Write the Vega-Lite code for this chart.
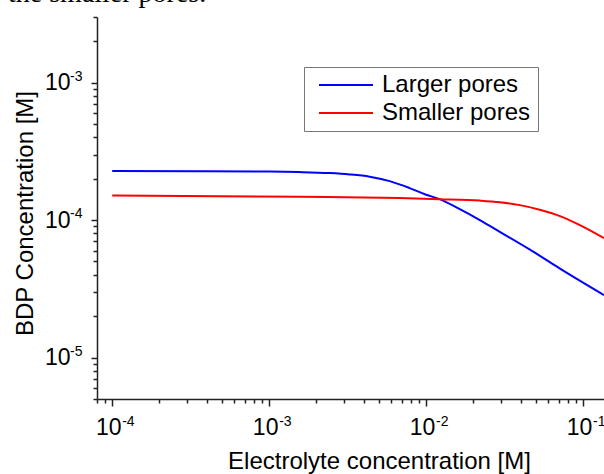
{
  "$schema": "https://vega.github.io/schema/vega-lite/v6.json",
  "autosize": {"type": "none"},
  "width": 507,
  "height": 382,
  "padding": {"left": 97, "top": 17, "right": 0, "bottom": 75},
  "background": "white",
  "config": {
    "view": {"stroke": null},
    "font": "Liberation Sans",
    "axis": {"grid": false, "domainColor": "#222", "domainWidth": 1.5, "tickColor": "#222", "tickWidth": 1.5, "labelFont": "Liberation Sans", "labelFontSize": 23, "labelColor": "#000", "titleFont": "Liberation Sans", "titleFontSize": 24, "titleFontWeight": "normal", "titleColor": "#000", "labelOverlap": false, "labelFlush": false}
  },
  "datasets": {
    "curves": [
      {"x": 0.0001, "y": 0.0002272, "s": "Larger pores"},
      {"x": 0.000359, "y": 0.0002264, "s": "Larger pores"},
      {"x": 0.001, "y": 0.0002253, "s": "Larger pores"},
      {"x": 0.00156, "y": 0.0002234, "s": "Larger pores"},
      {"x": 0.00243, "y": 0.0002197, "s": "Larger pores"},
      {"x": 0.00325, "y": 0.000215, "s": "Larger pores"},
      {"x": 0.00437, "y": 0.000207, "s": "Larger pores"},
      {"x": 0.00586, "y": 0.000192, "s": "Larger pores"},
      {"x": 0.00785, "y": 0.000171, "s": "Larger pores"},
      {"x": 0.01, "y": 0.000153, "s": "Larger pores"},
      {"x": 0.0122, "y": 0.000142, "s": "Larger pores"},
      {"x": 0.0164, "y": 0.00012, "s": "Larger pores"},
      {"x": 0.022, "y": 0.0001, "s": "Larger pores"},
      {"x": 0.0295, "y": 0.0000822, "s": "Larger pores"},
      {"x": 0.0459, "y": 0.000061, "s": "Larger pores"},
      {"x": 0.0713, "y": 0.0000444, "s": "Larger pores"},
      {"x": 0.136, "y": 0.0000285, "s": "Larger pores"},
      {"x": 0.0001, "y": 0.0001507, "s": "Smaller pores"},
      {"x": 0.00156, "y": 0.000148, "s": "Smaller pores"},
      {"x": 0.0068, "y": 0.0001445, "s": "Smaller pores"},
      {"x": 0.0122, "y": 0.000142, "s": "Smaller pores"},
      {"x": 0.022, "y": 0.0001387, "s": "Smaller pores"},
      {"x": 0.0295, "y": 0.000135, "s": "Smaller pores"},
      {"x": 0.0396, "y": 0.0001285, "s": "Smaller pores"},
      {"x": 0.053, "y": 0.000119, "s": "Smaller pores"},
      {"x": 0.0713, "y": 0.000107, "s": "Smaller pores"},
      {"x": 0.0955, "y": 0.000092, "s": "Smaller pores"},
      {"x": 0.136, "y": 0.000074, "s": "Smaller pores"}
    ],
    "xexp": [
      {"v": 0.0001, "e": "-4"},
      {"v": 0.001, "e": "-3"},
      {"v": 0.01, "e": "-2"},
      {"v": 0.1, "e": "-1"}
    ],
    "yexp": [
      {"v": 0.00001, "e": "-5"},
      {"v": 0.0001, "e": "-4"},
      {"v": 0.001, "e": "-3"}
    ],
    "caption": [
      {"t": "the smaller pores."}
    ]
  },
  "layer": [
    {
      "data": {"name": "curves"},
      "mark": {"type": "line", "strokeWidth": 2, "interpolate": "monotone", "clip": true},
      "encoding": {
        "x": {"field": "x", "type": "quantitative",
          "scale": {"type": "log", "domain": [0.00008, 0.136], "nice": false},
          "axis": {"title": "Electrolyte concentration [M]", "titleX": 282, "titleY": 69, "titleBaseline": "alphabetic", "titleAnchor": "middle",
            "values": [0.00008, 0.00009, 0.0001, 0.0002, 0.0003, 0.0004, 0.0005, 0.0006, 0.0007, 0.0008, 0.0009, 0.001, 0.002, 0.003, 0.004, 0.005, 0.006, 0.007, 0.008, 0.009, 0.01, 0.02, 0.03, 0.04, 0.05, 0.06, 0.07, 0.08, 0.09, 0.1],
            "labelExpr": "abs(log(datum.value)/LN10 - round(log(datum.value)/LN10)) < 1e-6 ? '10' : ''",
            "tickSize": {"condition": {"test": "abs(log(datum.value)/LN10 - round(log(datum.value)/LN10)) < 1e-6", "value": 7}, "value": 4},
            "labelOffset": -4,
            "labelPadding": 10}},
        "y": {"field": "y", "type": "quantitative",
          "scale": {"type": "log", "domain": [0.000005, 0.003], "nice": false},
          "axis": {"title": "BDP Concentration [M]", "titleX": -72, "titleY": 196, "titleBaseline": "middle", "titleAnchor": "middle",
            "values": [0.000005, 0.000006, 0.000007, 0.000008, 0.000009, 0.00001, 0.00002, 0.00003, 0.00004, 0.00005, 0.00006, 0.00007, 0.00008, 0.00009, 0.0001, 0.0002, 0.0003, 0.0004, 0.0005, 0.0006, 0.0007, 0.0008, 0.0009, 0.001, 0.002, 0.003],
            "labelExpr": "abs(log(datum.value)/LN10 - round(log(datum.value)/LN10)) < 1e-6 ? '10' : ''",
            "tickSize": {"condition": {"test": "abs(log(datum.value)/LN10 - round(log(datum.value)/LN10)) < 1e-6", "value": 6}, "value": 4},
            "labelPadding": 21}},
        "color": {"field": "s", "type": "nominal",
          "scale": {"domain": ["Larger pores", "Smaller pores"], "range": ["#0000FF", "#FF0000"]},
          "legend": {"title": "\u00a0", "titleOrient": "right", "titlePadding": 4, "titleFontSize": 10, "orient": "none", "legendX": 207, "legendY": 50, "strokeColor": "#777", "padding": 4, "symbolType": "stroke", "symbolSize": 2916, "symbolStrokeWidth": 2, "symbolOffset": 10, "clipHeight": 28, "rowPadding": 0, "labelFontSize": 24, "labelFont": "Liberation Sans", "labelColor": "#000", "labelOffset": 8, "fillColor": "white"}}
      }
    },
    {
      "data": {"name": "xexp"},
      "mark": {"type": "text", "fontSize": 14, "font": "Liberation Sans", "align": "left", "baseline": "top", "dx": 10, "dy": 16, "color": "#000"},
      "encoding": {
        "x": {"field": "v", "type": "quantitative"},
        "y": {"datum": 0.000005, "type": "quantitative"},
        "text": {"field": "e"}
      }
    },
    {
      "data": {"name": "yexp"},
      "mark": {"type": "text", "fontSize": 14, "font": "Liberation Sans", "align": "left", "baseline": "middle", "dx": -27, "dy": -6, "color": "#000"},
      "encoding": {
        "y": {"field": "v", "type": "quantitative"},
        "x": {"datum": 0.00008, "type": "quantitative"},
        "text": {"field": "e"}
      }
    },
    {
      "data": {"name": "caption"},
      "mark": {"type": "text", "fontSize": 28, "font": "Liberation Serif", "align": "left", "baseline": "alphabetic", "dx": -89, "dy": -15, "color": "#000"},
      "encoding": {
        "x": {"datum": 0.00008, "type": "quantitative"},
        "y": {"datum": 0.003, "type": "quantitative"},
        "text": {"field": "t"}
      }
    }
  ]
}
